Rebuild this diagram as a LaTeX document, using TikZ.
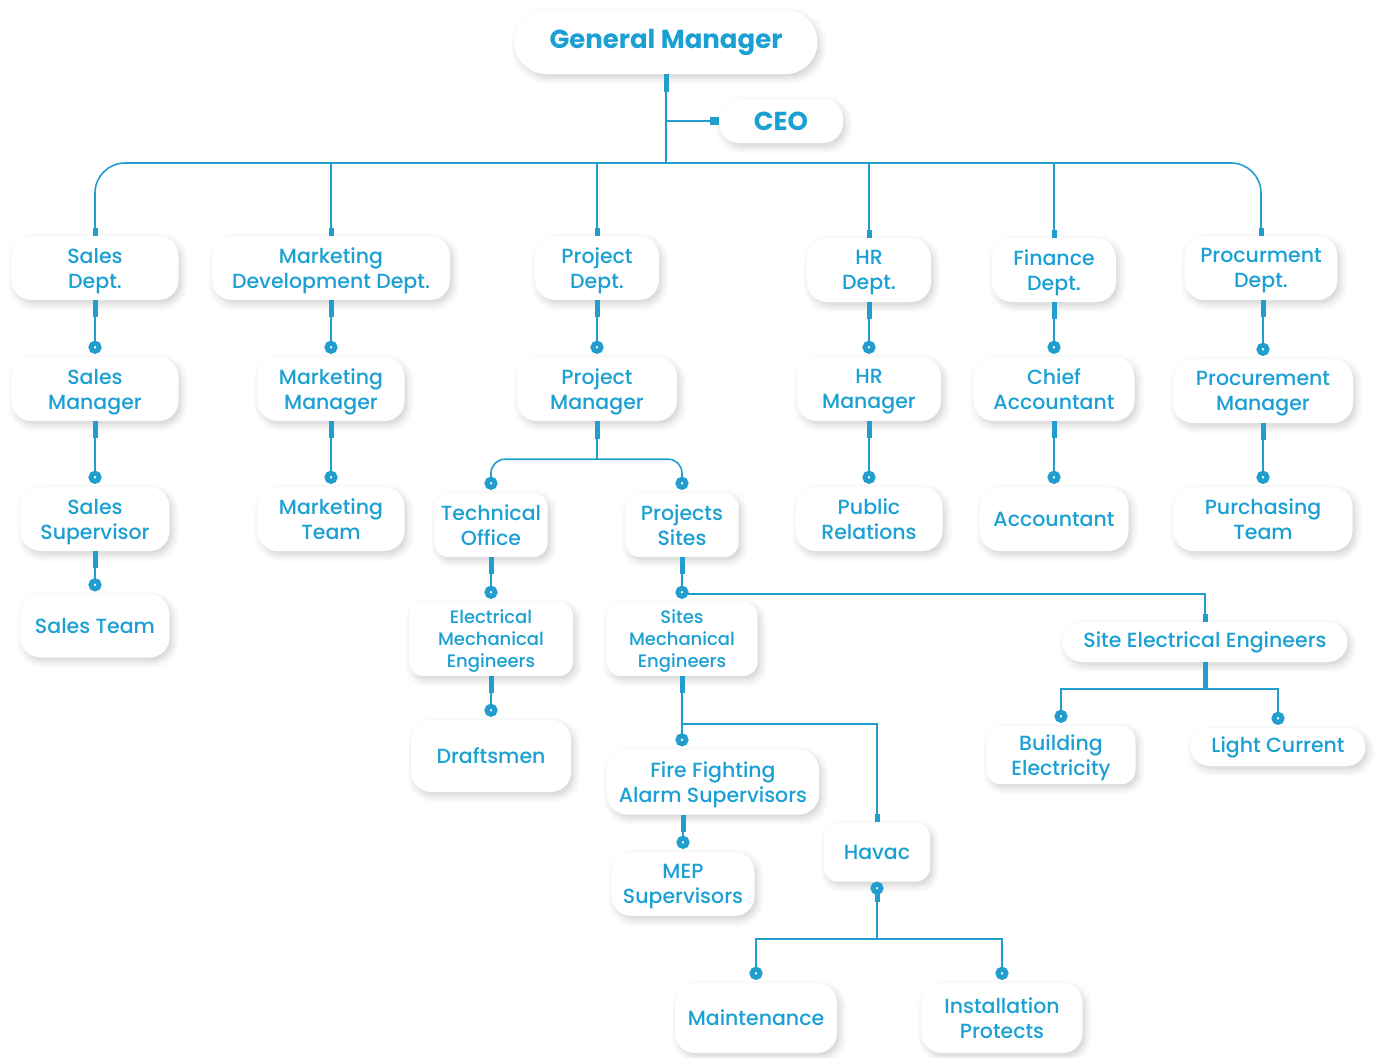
\documentclass[tikz,border=0pt]{standalone}
\usepackage{fontspec}
\setmainfont{Poppins Medium}[BoldFont={Poppins Bold}]
\usetikzlibrary{arrows.meta,calc,shadows.blur}
\definecolor{orgblue}{RGB}{27,160,211}
\definecolor{orgline}{RGB}{33,158,206}

\begin{document}
\begin{tikzpicture}[x=1pt,y=-1pt]
\useasboundingbox (0,0) rectangle (1378,1057);
\tikzstyle{box}=[fill=white,rounded corners=20pt,align=center,text=orgblue,inner sep=0pt,font=\fontsize{20.5}{25}\selectfont,blur shadow={shadow xshift=3pt,shadow yshift=-4pt,shadow blur radius=7pt,shadow opacity=18}]
\tikzstyle{two}=[text depth=0pt]
\tikzstyle{small}=[rounded corners=14pt]
\tikzstyle{link}=[draw=orgline,line width=1.6pt]
\tikzstyle{down}=[link,{Rectangle[length=17pt,width=5pt]}-{Circle[open,length=13pt,width=13pt,line width=5pt]},shorten >=3pt]
\tikzstyle{drop}=[link,-{Circle[open,length=13pt,width=13pt,line width=5pt]},shorten >=3pt]
\tikzstyle{top}=[link,-{Rectangle[length=8pt,width=5pt]}]

% GENERAL MANAGER AND CEO
\node [box,minimum width=303pt,minimum height=64pt,rounded corners=32pt,font=\fontsize{26}{30}\selectfont\bfseries] (gm) at (666,42) {General Manager};
\node [box,minimum width=124pt,minimum height=44pt,font=\fontsize{26}{30}\selectfont\bfseries] (ceo) at (781,121) {CEO};

% DEPARTMENTS
\node [box,two,minimum width=167pt,minimum height=64pt] (sd) at (95,268) {Sales\\Dept.};
\node [box,two,minimum width=238pt,minimum height=64pt] (mdd) at (331,268) {Marketing\\Development Dept.};
\node [box,two,minimum width=124pt,minimum height=64pt] (pd) at (597,268) {Project\\Dept.};
\node [box,two,minimum width=124pt,minimum height=64pt] (hrd) at (869,270) {HR\\Dept.};
\node [box,two,minimum width=124pt,minimum height=64pt] (fd) at (1054,270) {Finance\\Dept.};
\node [box,two,minimum width=153pt,minimum height=64pt] (prd) at (1261,268) {Procurment\\Dept.};

% MANAGERS
\node [box,two,minimum width=167pt,minimum height=64pt] (sm) at (95,389) {Sales\\Manager};
\node [box,two,minimum width=147pt,minimum height=64pt] (mm) at (331,389) {Marketing\\Manager};
\node [box,two,minimum width=160pt,minimum height=64pt] (pm) at (597,389) {Project\\Manager};
\node [box,two,minimum width=144pt,minimum height=64pt] (hrm) at (869,389) {HR\\Manager};
\node [box,two,minimum width=161pt,minimum height=64pt] (ca) at (1054,389) {Chief\\Accountant};
\node [box,two,minimum width=180pt,minimum height=64pt] (prm) at (1263,391) {Procurement\\Manager};

% THIRD ROW
\node [box,two,minimum width=149pt,minimum height=64pt] (ss) at (95,519) {Sales\\Supervisor};
\node [box,two,minimum width=147pt,minimum height=64pt] (mt) at (331,519) {Marketing\\Team};
\node [box,two,small,minimum width=113pt,minimum height=64pt] (tec) at (491,525) {Technical\\Office};
\node [box,two,small,minimum width=113pt,minimum height=64pt] (pst) at (682,525) {Projects\\Sites};
\node [box,two,minimum width=147pt,minimum height=64pt] (pr) at (869,519) {Public\\Relations};
\node [box,minimum width=149pt,minimum height=64pt] (acc) at (1054,519) {Accountant};
\node [box,two,minimum width=179pt,minimum height=64pt] (pt) at (1263,519) {Purchasing\\Team};

% FOURTH ROW
\node [box,minimum width=149pt,minimum height=63pt] (st) at (95,626) {Sales Team};
\node [box,two,small,minimum width=164pt,minimum height=74pt,font=\fontsize{18}{22}\selectfont] (eme) at (491,639) {Electrical\\Mechanical\\Engineers};
\node [box,two,small,minimum width=151pt,minimum height=74pt,font=\fontsize{18}{22}\selectfont] (sme) at (682,639) {Sites\\Mechanical\\Engineers};
\node [box,minimum width=285pt,minimum height=40pt] (see) at (1205,642) {Site Electrical Engineers};

% FIFTH ROW
\node [box,minimum width=160pt,minimum height=72pt] (dr) at (491,756) {Draftsmen};
\node [box,two,minimum width=212pt,minimum height=65pt] (ff) at (713,782) {Fire Fighting\\Alarm Supervisors};
\node [box,two,small,minimum width=149pt,minimum height=58pt] (be) at (1061,755) {Building\\Electricity};
\node [box,rounded corners=19pt,minimum width=175pt,minimum height=38pt] (lc) at (1278,747) {Light Current};
\node [box,small,minimum width=106pt,minimum height=59pt] (hv) at (877,852) {Havac};

% BOTTOM ROW
\node [box,two,minimum width=143pt,minimum height=64pt] (mep) at (683,884) {MEP\\Supervisors};
\node [box,minimum width=162pt,minimum height=70pt] (mn) at (756,1018) {Maintenance};
\node [box,two,minimum width=161pt,minimum height=70pt] (ip) at (1002,1018) {Installation\\Protects};

% GM TO CEO AND DEPARTMENTS
\coordinate (hub) at (666,163);
\coordinate (ceojoin) at (gm.south |- ceo.west);
\draw [link,{Rectangle[length=18pt,width=5pt]}-] (gm.south) -- (hub);
\draw [link,-{Rectangle[length=9pt,width=8pt]}] (ceojoin) -- (ceo.west);
\draw [top,rounded corners=30pt] (hub) -| (sd.north);
\draw [top] (hub) -| (mdd.north);
\draw [top] (hub) -| (pd.north);
\draw [top] (hub) -| (hrd.north);
\draw [top] (hub) -| (fd.north);
\draw [top,rounded corners=30pt] (hub) -| (prd.north);

% STRAIGHT CHAINS
\draw [down] (sd.south) -- (sm.north);
\draw [down] (sm.south) -- (ss.north);
\draw [down] (ss.south) -- (st.north);
\draw [down] (mdd.south) -- (mm.north);
\draw [down] (mm.south) -- (mt.north);
\draw [down] (pd.south) -- (pm.north);
\draw [down] (hrd.south) -- (hrm.north);
\draw [down] (hrm.south) -- (pr.north);
\draw [down] (fd.south) -- (ca.north);
\draw [down] (ca.south) -- (acc.north);
\draw [down] ($(prd.south)+(2,0)$) -- (prm.north);
\draw [down] (prm.south) -- (pt.north);

% PROJECT MANAGER BRANCH
\coordinate (pmfork) at ($(pm.south)+(0,38)$);
\draw [link,{Rectangle[length=18pt,width=5pt]}-] (pm.south) -- (pmfork);
\draw [drop,rounded corners=14pt] (pmfork) -| (tec.north);
\draw [drop,rounded corners=14pt] (pmfork) -| (pst.north);
\draw [down] (tec.south) -- (eme.north);
\draw [down] (eme.south) -- (dr.north);

% PROJECTS SITES BRANCH
\coordinate (psbranch) at ($(sme.north)+(0,-8)$);
\draw [down] (pst.south) -- (sme.north);
\draw [top] (psbranch) -| (see.north);

% SITES MECHANICAL BRANCH
\coordinate (fftop) at (sme.south |- ff.north);
\coordinate (smefork) at ($(sme.south)+(0,48)$);
\coordinate (mepstart) at (mep.north |- ff.south);
\draw [down] (sme.south) -- (fftop);
\draw [top] (smefork) -| (hv.north);
\draw [down] (mepstart) -- (mep.north);

% SITE ELECTRICAL BRANCH
\coordinate (seefork) at ($(see.south)+(0,27)$);
\draw [link,{Rectangle[length=26pt,width=5pt]}-] (see.south) -- (seefork);
\draw [drop] (seefork) -| (be.north);
\draw [drop] (seefork) -| (lc.north);

% HAVAC BRANCH
\coordinate (hvfork) at ($(hv.south)+(0,57)$);
\draw [link,{Circle[open,length=13pt,width=13pt,line width=5pt]}-] (hv.south) -- (hvfork);
\draw [link,line width=5pt] ($(hv.south)+(0,10)$) -- ++(0,10);
\draw [drop] (hvfork) -| (mn.north);
\draw [drop] (hvfork) -| (ip.north);

\end{tikzpicture}
\end{document}
